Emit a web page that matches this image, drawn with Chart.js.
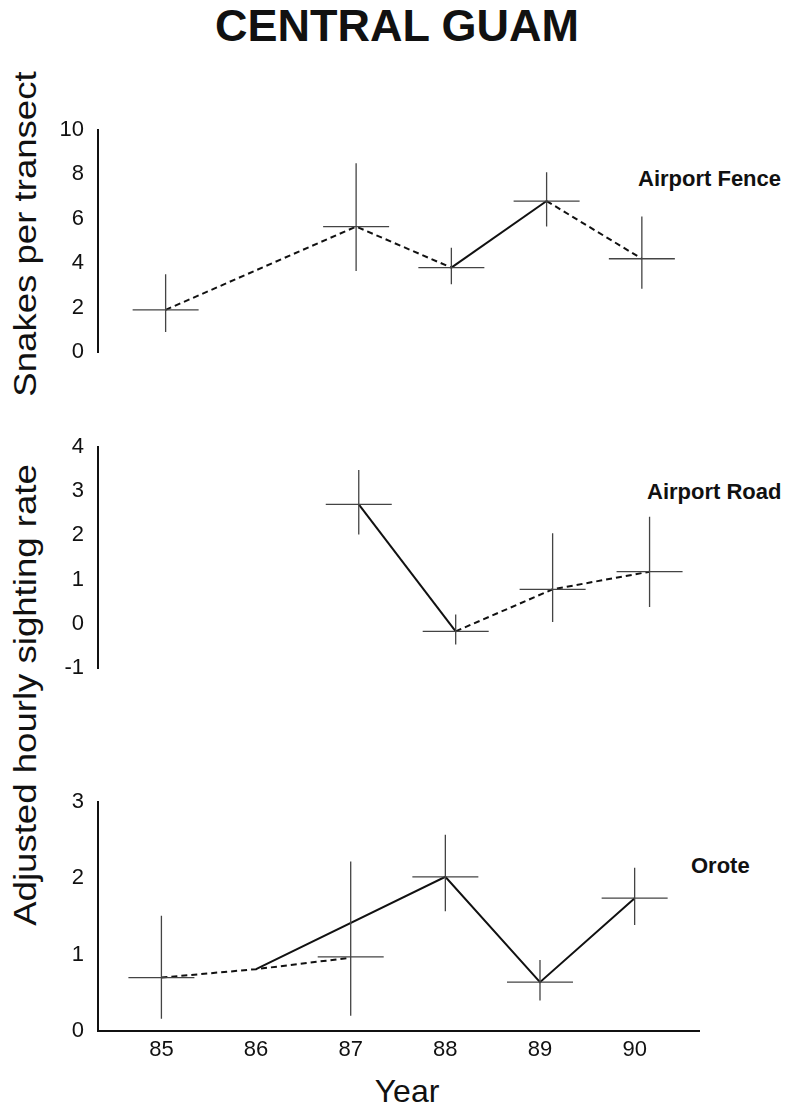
<!DOCTYPE html>
<html>
<head>
<meta charset="utf-8">
<script src="https://cdn.jsdelivr.net/npm/chart.js@4.4.1/dist/chart.umd.min.js"></script>
<style>
  html,body{margin:0;padding:0;background:#fff;}
  body{width:794px;height:1110px;position:relative;overflow:hidden;font-family:'Liberation Sans',Arial,Helvetica,sans-serif;color:#111;}
  canvas{position:absolute;left:0;}
  .txt{position:absolute;white-space:nowrap;line-height:1;}
  .site{font-weight:bold;font-size:22px;}
  .ylab{font-size:31px;line-height:31px;transform:translate(-50%,-50%) rotate(-90deg) scaleX(1.18);}
</style>
</head>
<body>
<div class="txt" style="left:0;width:794px;text-align:center;top:3px;font-weight:bold;font-size:45px;">CENTRAL GUAM</div>
<div class="txt ylab" style="left:25px;top:234px;">Snakes per transect</div>
<div class="txt ylab" style="left:25px;top:695px;">Adjusted hourly sighting rate</div>
<div class="txt site" style="left:638px;top:168px;">Airport Fence</div>
<div class="txt site" style="left:647px;top:481px;">Airport Road</div>
<div class="txt site" style="left:691px;top:855px;">Orote</div>
<div class="txt" style="left:307px;width:200px;text-align:center;top:1075px;font-size:32px;">Year</div>

<canvas id="fence" width="794" height="242" style="top:120px"></canvas>
<canvas id="road" width="794" height="241" style="top:437px"></canvas>
<canvas id="orote" width="794" height="269" style="top:792px"></canvas>

<script>
// x ticks
const yearTicks = [85, 86, 87, 88, 89, 90];

// Airport Fence (snakes per transect)
const fenceYears = [85, 87, 88, 89, 90];
const fenceMean = [1.9, 5.65, 3.8, 6.8, 4.2];
const fenceLow = [0.9, 3.65, 3.05, 5.65, 2.85];
const fenceHigh = [3.5, 8.5, 4.7, 8.1, 6.1];
const fenceDashed = [true, true, false, true];
const fenceTicks = [0, 2, 4, 6, 8, 10];

// Airport Road (adjusted hourly sighting rate)
const roadYears = [87, 88, 89, 90];
const roadMean = [2.7, -0.17, 0.78, 1.18];
const roadLow = [2.02, -0.47, 0.04, 0.38];
const roadHigh = [3.48, 0.21, 2.05, 2.42];
const roadDashed = [false, true, true];
const roadTicks = [-1, 0, 1, 2, 3, 4];

// Orote
const oroteYears = [85, 87, 88, 89, 90];
const oroteMean = [0.7, 0.97, 2.02, 0.64, 1.74];
const oroteLow = [0.16, 0.2, 1.57, 0.4, 1.39];
const oroteHigh = [1.51, 2.22, 2.57, 0.93, 2.14];
const oroteDashYears = [85, 86, 87];
const oroteDashVals = [0.7, 0.81, 0.96];
const oroteSolidYears = [86, 88, 89, 90];
const oroteSolidVals = [0.81, 2.02, 0.64, 1.74];
const oroteTicks = [0, 1, 2, 3];

const INK = '#111';
const FONT = "'Liberation Sans', Arial, Helvetica, sans-serif";

const crossPlugin = {
  id: 'crosses',
  afterDatasetsDraw(chart, args, o) {
    if (!o || !o.years) return;
    const {ctx, scales: {x, y}} = chart;
    ctx.save();
    ctx.strokeStyle = '#444';
    ctx.lineWidth = 1.3;
    o.years.forEach((yr, i) => {
      const px = x.getPixelForValue(yr), py = y.getPixelForValue(o.mean[i]);
      ctx.beginPath();
      ctx.moveTo(px, y.getPixelForValue(o.low[i]));
      ctx.lineTo(px, y.getPixelForValue(o.high[i]));
      ctx.moveTo(px - 33, py);
      ctx.lineTo(px + 33, py);
      ctx.stroke();
    });
    ctx.restore();
  }
};

const pts = (xs, ys) => xs.map((v, i) => ({x: v, y: ys[i]}));

function lineSet(data, dashed) {
  return {
    data, borderColor: INK, borderWidth: 2, pointRadius: 0, tension: 0,
    borderCapStyle: 'butt',
    borderDash: dashed === true ? [6, 4] : [],
    segment: Array.isArray(dashed) ? {borderDash: c => dashed[c.p0DataIndex] ? [6, 4] : []} : undefined
  };
}

// keep the plot area exactly where the layout padding puts it
const noPad = s => { s.paddingTop = 0; s.paddingBottom = 0; s.paddingLeft = 0; s.paddingRight = 0; };

function panel(id, datasets, cross, yMin, yMax, yTicks, xMin, xMax, showX) {
  new Chart(document.getElementById(id), {
    type: 'line',
    data: {datasets},
    options: {
      responsive: false, animation: false, devicePixelRatio: 1,
      layout: {padding: {top: 10, bottom: showX ? 0 : 10, left: 0, right: 95}},
      plugins: {legend: {display: false}, tooltip: {enabled: false}, crosses: cross},
      scales: {
        x: {
          type: 'linear', min: xMin, max: xMax, display: showX,
          grid: {display: false, drawTicks: false},
          border: {display: true, color: INK, width: 2},
          afterBuildTicks: s => { s.ticks = yearTicks.map(v => ({value: v})); },
          afterFit: s => { s.height = showX ? 30 : 0; noPad(s); },
          ticks: {color: INK, padding: 6, font: {family: FONT, size: 22}}
        },
        y: {
          min: yMin, max: yMax,
          grid: {display: false, drawTicks: false},
          border: {display: true, color: INK, width: 2},
          afterBuildTicks: s => { s.ticks = yTicks.map(v => ({value: v})); },
          afterFit: s => { s.width = 98; noPad(s); },
          ticks: {color: INK, padding: 14, font: {family: FONT, size: 22}}
        }
      }
    },
    plugins: [crossPlugin]
  });
}

panel('fence', [lineSet(pts(fenceYears, fenceMean), fenceDashed)],
  {years: fenceYears, mean: fenceMean, low: fenceLow, high: fenceHigh},
  0, 10, fenceTicks, 84.29, 90.60, false);

panel('road', [lineSet(pts(roadYears, roadMean), roadDashed)],
  {years: roadYears, mean: roadMean, low: roadLow, high: roadHigh},
  -1, 4, roadTicks, 84.31, 90.51, false);

panel('orote', [
    lineSet(pts(oroteDashYears, oroteDashVals), true),
    lineSet(pts(oroteSolidYears, oroteSolidVals), false)
  ],
  {years: oroteYears, mean: oroteMean, low: oroteLow, high: oroteHigh},
  0, 3, oroteTicks, 84.33, 90.68, true);
</script>
</body>
</html>
